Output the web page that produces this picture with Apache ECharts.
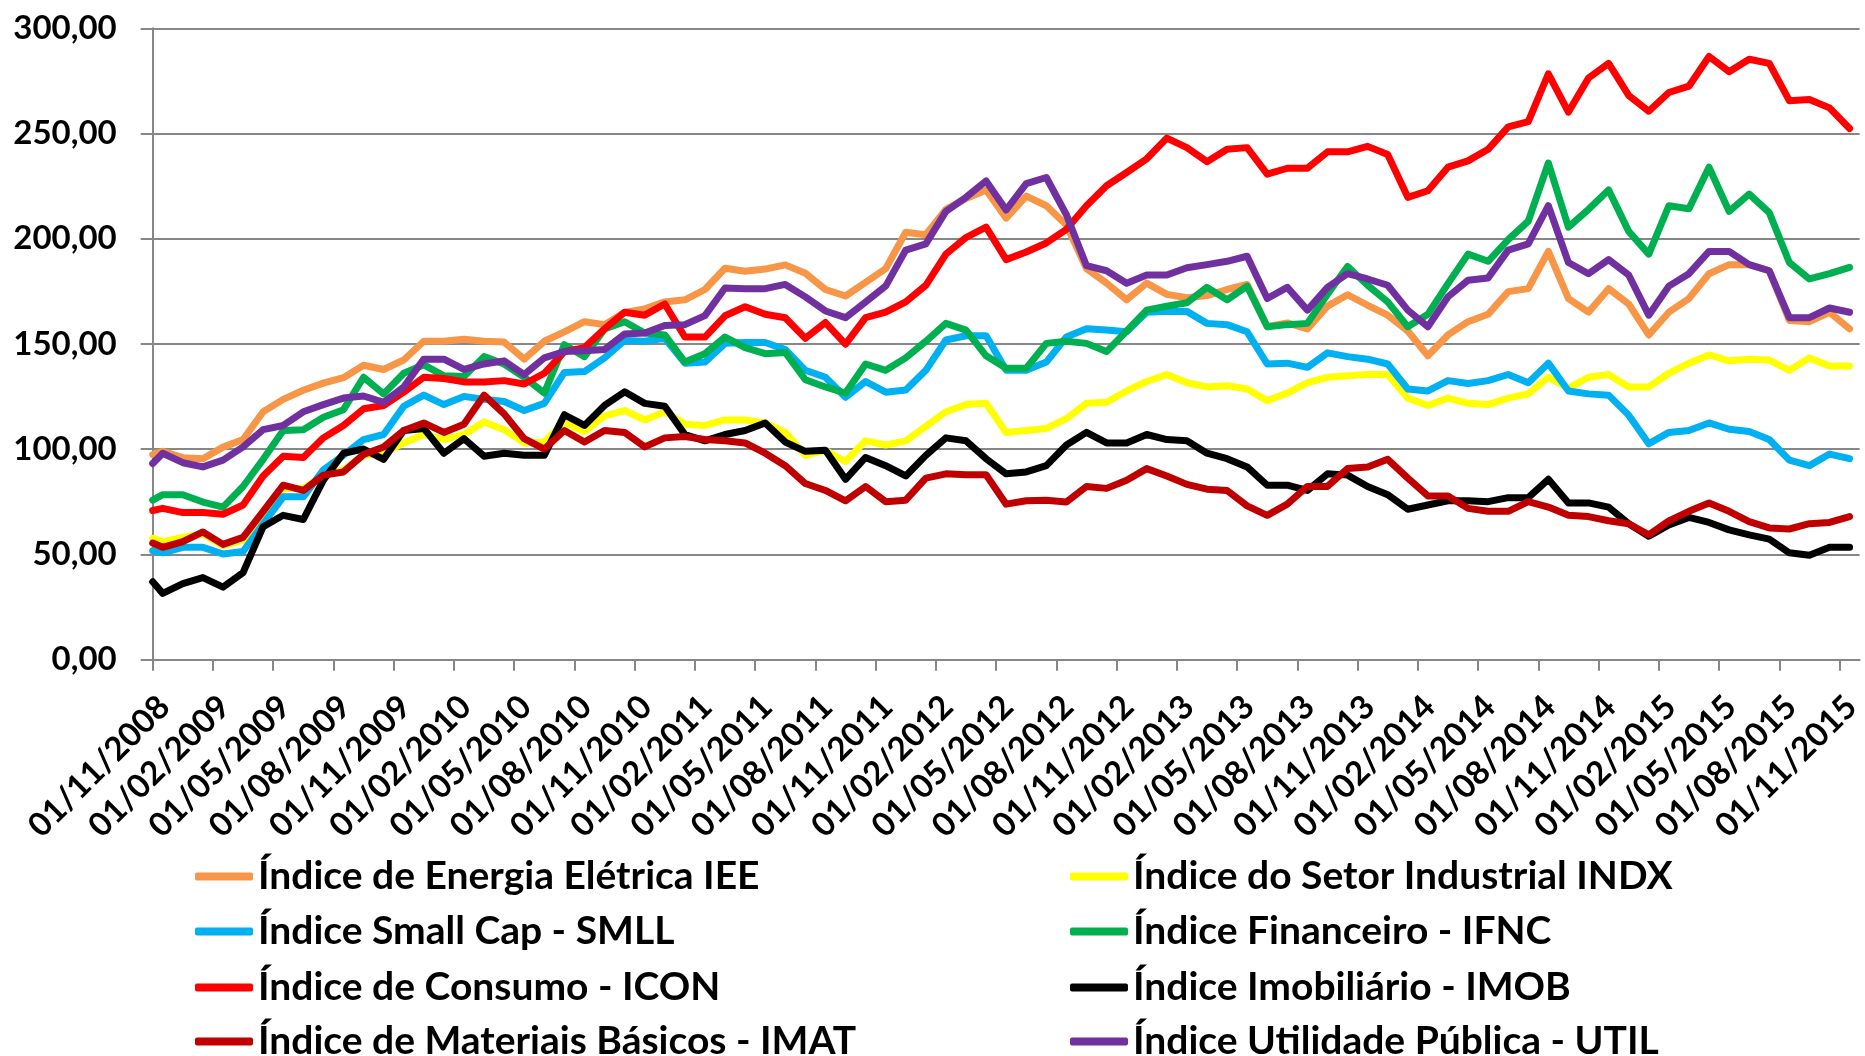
<!DOCTYPE html>
<html>
<head>
<meta charset="utf-8">
<title>Índices setoriais</title>
<script src="https://cdn.jsdelivr.net/npm/echarts@6/dist/echarts.min.js"></script>
<style>
	html, body {
		margin: 0;
		padding: 0;
		background: #fff;
	}

	#chart {
		width: 1865px;
		height: 1056px;
	}
</style>
</head>

<body>
	<div id="chart"></div>
<script>
	// datas dos pontos (primeiro ponto no inicio do mes, depois meio do mes)
	var dates = [
		'01/11/2008', '16/11/2008', '16/12/2008',
		'16/01/2009', '16/02/2009', '16/03/2009', '16/04/2009', '16/05/2009', '16/06/2009', '16/07/2009', '16/08/2009', '16/09/2009', '16/10/2009', '16/11/2009', '16/12/2009',
		'16/01/2010', '16/02/2010', '16/03/2010', '16/04/2010', '16/05/2010', '16/06/2010', '16/07/2010', '16/08/2010', '16/09/2010', '16/10/2010', '16/11/2010', '16/12/2010',
		'16/01/2011', '16/02/2011', '16/03/2011', '16/04/2011', '16/05/2011', '16/06/2011', '16/07/2011', '16/08/2011', '16/09/2011', '16/10/2011', '16/11/2011', '16/12/2011',
		'16/01/2012', '16/02/2012', '16/03/2012', '16/04/2012', '16/05/2012', '16/06/2012', '16/07/2012', '16/08/2012', '16/09/2012', '16/10/2012', '16/11/2012', '16/12/2012',
		'16/01/2013', '16/02/2013', '16/03/2013', '16/04/2013', '16/05/2013', '16/06/2013', '16/07/2013', '16/08/2013', '16/09/2013', '16/10/2013', '16/11/2013', '16/12/2013',
		'16/01/2014', '16/02/2014', '16/03/2014', '16/04/2014', '16/05/2014', '16/06/2014', '16/07/2014', '16/08/2014', '16/09/2014', '16/10/2014', '16/11/2014', '16/12/2014',
		'16/01/2015', '16/02/2015', '16/03/2015', '16/04/2015', '16/05/2015', '16/06/2015', '16/07/2015', '16/08/2015', '16/09/2015', '16/10/2015', '16/11/2015'
	];

	var tickLabels = [
		'01/11/2008', '01/02/2009', '01/05/2009', '01/08/2009', '01/11/2009', '01/02/2010', '01/05/2010', '01/08/2010',
		'01/11/2010', '01/02/2011', '01/05/2011', '01/08/2011', '01/11/2011', '01/02/2012', '01/05/2012', '01/08/2012',
		'01/11/2012', '01/02/2013', '01/05/2013', '01/08/2013', '01/11/2013', '01/02/2014', '01/05/2014', '01/08/2014',
		'01/11/2014', '01/02/2015', '01/05/2015', '01/08/2015', '01/11/2015'
	];

	var iee = [97.5, 99, 96, 95.5, 101, 104.6, 117.8, 123.7, 128, 131.4,
		134, 139.9, 137.9, 142.4, 151.3, 151.3, 152.3, 151.3, 150.9, 142.8,
		151.3, 155.8, 160.6, 159.2, 165, 166.7, 170, 171, 175.9, 186,
		184.6, 185.6, 187.6, 183.6, 175.9, 172.8, 179.3, 185.8, 203.1, 201.9,
		214, 219.1, 223.2, 209.8, 220.3, 215.7, 206.5, 185.8, 178.9, 171,
		178.9, 173.6, 172, 173, 175.9, 178.3, 158.2, 160, 157.2, 168,
		173.4, 168.4, 163.7, 156.2, 144.4, 154.3, 160.6, 164.1, 174.9, 176.3,
		194, 171.6, 165.1, 176.3, 169, 154.3, 165.1, 171.6, 183.4, 187.7,
		187.7, 184.8, 161.2, 160.6, 165.1, 157.2];

	var indx = [57.7, 56.1, 58.1, 59.7, 54.2, 56.7, 67.6, 81.4, 81.4, 87.3,
		90.2, 97.1, 98.1, 103, 107, 104.6, 107, 112.9, 109.3, 103,
		103.4, 112.9, 108.4, 115.8, 118.4, 113.9, 117.8, 111.9, 111.3, 113.9,
		113.9, 112.5, 108, 97.1, 99.5, 94.2, 104, 102, 104, 110.9,
		117.8, 121.2, 121.8, 108, 108.9, 109.9, 114.5, 121.8, 122.3, 127.7,
		132.2, 135.5, 131.6, 129.6, 130.2, 128.6, 123.1, 126.7, 131.6, 134.2,
		134.9, 135.5, 135.5, 124.3, 120.8, 124.3, 121.8, 121.2, 124.3, 126.3,
		134.2, 129, 134.2, 135.5, 129.6, 129.6, 136.1, 140.9, 144.8, 142,
		142.8, 142.4, 137.5, 143.4, 139.5, 139.5];

	var smll = [51.8, 50.8, 53.4, 53.4, 50.2, 51.4, 64.6, 77.4, 77.4, 90.2,
		97.1, 104.6, 107, 120.4, 125.7, 121.2, 125.1, 123.7, 122.7, 118.4,
		121.8, 136.5, 136.9, 143.4, 151.7, 151.3, 152.7, 140.9, 141.4, 150.3,
		150.7, 150.7, 147.4, 137.5, 134.2, 124.7, 132.2, 127.1, 128.1, 137.5,
		151.9, 153.9, 153.9, 137.5, 137.5, 141.4, 153.3, 157.2, 156.6, 155.8,
		165.1, 165.5, 165.5, 159.8, 159.2, 155.8, 140.5, 140.9, 138.9, 145.8,
		144, 142.8, 140.5, 128.6, 127.7, 132.6, 131.2, 132.6, 135.5, 131.6,
		140.9, 127.7, 126.3, 125.7, 116.2, 102.6, 108, 108.9, 112.5, 109.5,
		108.4, 104.6, 94.8, 92.2, 97.7, 95.5];

	var ifnc = [75.8, 78.4, 78.4, 74.9, 72.5, 82.3, 95.2, 108.9, 109.3, 115.2,
		118.8, 134.2, 126.3, 136.1, 140.1, 134.9, 134.6, 144, 140.5, 134.2,
		126.7, 149.7, 144, 157.2, 160.6, 155.2, 154.3, 141.4, 145.4, 153.3,
		148.3, 145.4, 146, 133, 129.6, 126.7, 140.5, 137.5, 143.4, 151.3,
		159.8, 156.6, 144.4, 138.5, 138.5, 150.3, 151.3, 150.3, 146.4, 156.2,
		166.1, 168, 169.6, 176.9, 171, 177.5, 158.2, 159.2, 159.8, 173.6,
		186.8, 177.9, 170, 158.2, 164.1, 178.7, 192.7, 189.3, 199.6, 208.4,
		236, 205.5, 214, 223.2, 203.5, 192.7, 215.7, 214.3, 234, 213,
		221.2, 212.4, 188.7, 180.9, 183.4, 186.4];

	var icon = [70.9, 71.9, 69.9, 69.9, 69.1, 73.5, 87.3, 96.7, 96.1, 105.4,
		111.3, 119.2, 120.8, 127.1, 134.2, 133.6, 132, 132, 132.6, 131,
		136.1, 146.4, 148.3, 157.2, 165.1, 163.7, 169, 153.3, 153.3, 163.4,
		167.7, 164.1, 162.5, 152.7, 160.2, 149.9, 162.5, 165.1, 170, 177.9,
		192.7, 200.6, 205.5, 190.1, 193.7, 198, 204.5, 215.7, 225.2, 231.5,
		238, 247.8, 243.3, 236.6, 242.5, 243.3, 230.7, 233.5, 233.5, 241.3,
		241.3, 243.9, 240, 219.7, 222.8, 234, 237, 242.5, 253.2, 255.7,
		278.4, 260.2, 276.4, 283.3, 268.1, 260.6, 269.5, 272.5, 286.6, 279.4,
		285.3, 283.3, 265.6, 266.2, 262.2, 252.4];

	var imob = [37, 31.5, 36.1, 39, 34.5, 41.4, 63.2, 68.6, 66.6, 85.3,
		98.1, 100.1, 95.2, 108.9, 109.9, 98.1, 105, 96.7, 98.1, 97.1,
		97.1, 116.4, 111.3, 120.8, 127.3, 121.8, 120.4, 107, 104, 107,
		108.9, 112.5, 103.4, 99, 99.5, 85.7, 96.1, 92.2, 87.3, 97.1,
		105.4, 104, 95.5, 88.3, 89.2, 92.2, 102, 108, 103, 103,
		107, 104.6, 104, 98.1, 95.5, 91.6, 82.9, 82.9, 80.4, 88.3,
		87.7, 82.3, 78.4, 71.5, 73.5, 75.5, 75.5, 75.1, 77, 77,
		85.7, 74.5, 74.5, 72.5, 64.6, 58.7, 64, 67.6, 65.2, 61.7,
		59.3, 57.3, 50.8, 49.6, 53.4, 53.4];

	var imat = [55.4, 53.4, 56.1, 60.7, 54.8, 58.1, 70.5, 82.9, 80.4, 87.7,
		89.2, 97.5, 101.1, 108.9, 112.5, 108, 111.9, 125.7, 116.8, 105,
		100.1, 108.9, 103.4, 108.9, 108, 101.1, 105.4, 106, 104.6, 104,
		103, 98.1, 92.2, 83.7, 80.4, 75.5, 82.3, 75.1, 75.8, 86.3,
		88.3, 87.9, 87.9, 73.9, 75.5, 75.8, 74.9, 82.3, 81.4, 85.3,
		90.8, 87.3, 83.3, 81, 80.4, 73.1, 68.6, 73.9, 82.3, 82.3,
		90.8, 91.6, 95.2, 86.3, 77.8, 77.8, 71.9, 70.5, 70.5, 75.1,
		72.5, 68.6, 68, 66, 64.6, 59.3, 66, 70.5, 74.5, 70.5,
		65.6, 62.6, 62.1, 64.6, 65.2, 68];

	var util = [93.2, 98.1, 93.6, 91.6, 94.8, 101.1, 109.3, 111.3, 117.8, 121.2,
		124.3, 125.3, 122.3, 129.6, 142.8, 142.8, 137.9, 140.5, 142, 135.5,
		143.4, 146.4, 146.8, 147.4, 154.8, 155.2, 158.8, 159.2, 163.5, 176.6,
		176.3, 176.3, 178.3, 172.4, 165.7, 162.5, 170, 177.5, 194.6, 197.6,
		213, 219.7, 227.5, 213.7, 226.2, 229.1, 211.4, 187.2, 184.8, 178.9,
		182.8, 182.8, 186.2, 187.7, 189.3, 191.7, 171.6, 176.9, 166.1, 176.9,
		183.4, 180.9, 177.9, 166.1, 158.2, 172.4, 180.3, 181.4, 194.6, 197.6,
		215.7, 188.7, 183.4, 190.1, 182.8, 163.7, 177.5, 183.4, 194, 194,
		187.7, 184.8, 162.5, 162.5, 167.1, 165.1];

	var names = [
		'Índice de Energia Elétrica IEE',
		'Índice do Setor Industrial INDX',
		'Índice Small Cap - SMLL',
		'Índice Financeiro - IFNC',
		'Índice de Consumo - ICON',
		'Índice Imobiliário - IMOB',
		'Índice de Materiais Básicos - IMAT',
		'Índice Utilidade Pública - UTIL'
	];
	var colors = ['#F79646', '#FFFF00', '#00B0F0', '#00B050', '#FF0000', '#000000', '#C00000', '#7030A0'];
	var values = [iee, indx, smll, ifnc, icon, imob, imat, util];

	// meses desde 01/11/2008
	function monthOffset(d) {
		var p = d.split('/');
		return (+p[2] - 2008) * 12 + (+p[1] - 11) + (+p[0] - 1) / 30;
	}

	var font = 'Lato';
	var gray = '#878787';

	var series = names.map(function (n, k) {
		return {
			name: n,
			type: 'line',
			symbol: 'none',
			color: colors[k],
			lineStyle: { width: 7, join: 'round', cap: 'round' },
			data: dates.map(function (d, i) { return [monthOffset(d), values[k][i]]; })
		};
	});

	// legenda em duas colunas, uma entrada por componente
	var rowY = [874, 929, 985, 1039];
	var colX = [195, 1070];
	var legends = names.map(function (n, k) {
		return {
			data: [n],
			left: colX[k % 2],
			top: rowY[Math.floor(k / 2)] - 17,
			padding: 0,
			icon: 'roundRect',
			itemWidth: 58,
			itemHeight: 8,
			textStyle: { fontFamily: font, fontWeight: 'bold', fontSize: 39, color: '#000', lineHeight: 34 }
		};
	});

	var chart = echarts.init(document.getElementById('chart'), null, { renderer: 'canvas' });
	chart.setOption({
		animation: false,
		backgroundColor: '#fff',
		grid: { left: 152.7, right: -4.7, top: 28.3, bottom: 396.3, containLabel: false },
		legend: legends,
		xAxis: {
			type: 'value',
			min: 0,
			max: 85,
			interval: 3,
			splitLine: { show: false },
			axisLine: { show: true, lineStyle: { color: gray, width: 2 } },
			axisTick: { show: true, length: 11, lineStyle: { color: gray, width: 2 } },
			axisLabel: {
				rotate: 45,
				margin: 30,
				verticalAlign: 'top',
				showMaxLabel: false,
				fontFamily: font,
				fontWeight: 'bold',
				fontSize: 33,
				color: '#000',
				formatter: function (v) {
					if (v % 3 !== 0) return '';
					return tickLabels[v / 3] || '';
				}
			}
		},
		yAxis: {
			type: 'value',
			min: 0,
			max: 300,
			interval: 50,
			axisLine: { show: true, lineStyle: { color: gray, width: 2 } },
			axisTick: { show: true, length: 12, lineStyle: { color: gray, width: 2 } },
			splitLine: { show: true, lineStyle: { color: gray, width: 2 } },
			axisLabel: {
				margin: 36,
				fontFamily: font,
				fontWeight: 'bold',
				fontSize: 33,
				color: '#000',
				formatter: function (v) { return v.toFixed(2).replace('.', ','); }
			}
		},
		series: series
	});
</script>
</body>

</html>
